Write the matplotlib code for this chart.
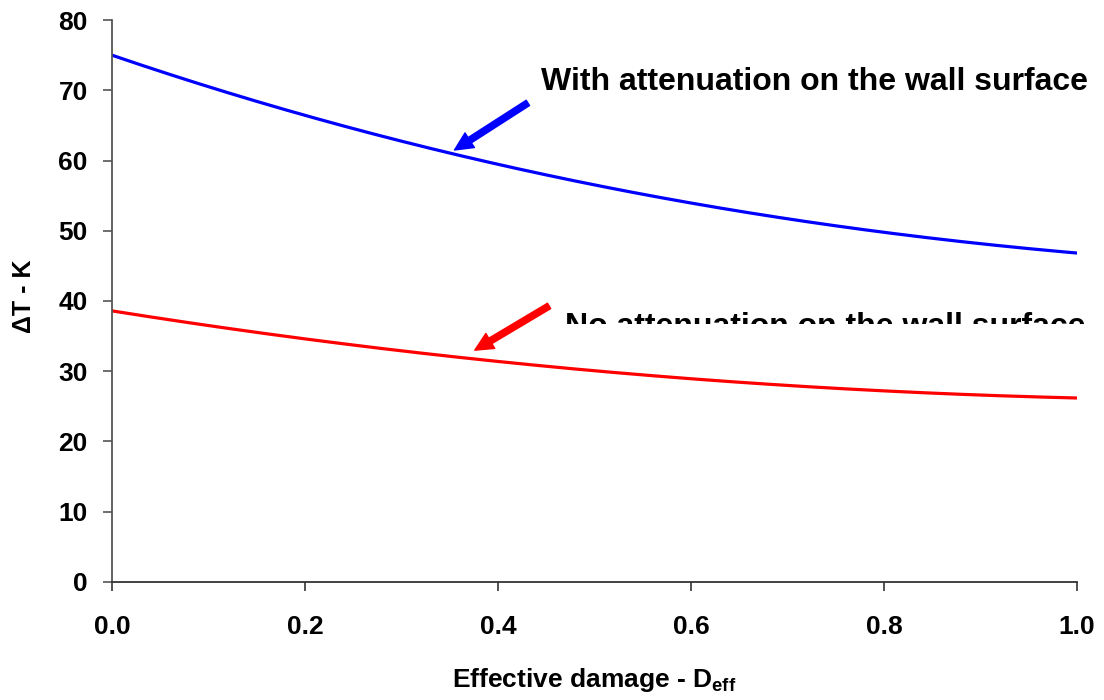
import numpy as np
import matplotlib
matplotlib.use('Agg')
import matplotlib.pyplot as plt
from matplotlib.transforms import Bbox, TransformedBbox

plt.rcParams['font.family'] = ['Liberation Sans', 'DejaVu Sans']
plt.rcParams['font.weight'] = 'bold'
plt.rcParams['axes.labelweight'] = 'bold'
plt.rcParams['mathtext.fontset'] = 'custom'
plt.rcParams['mathtext.rm'] = 'Liberation Sans:bold'
plt.rcParams['mathtext.bf'] = 'Liberation Sans:bold'

# -------------------------------------------------------------------
# DATA
# -------------------------------------------------------------------
d_eff = [0.0, 0.1, 0.2, 0.3, 0.4, 0.5, 0.6, 0.7, 0.8, 0.9, 1.0]
dT_with_att = [75.0, 70.5, 66.4, 62.8, 59.5, 56.5, 53.9, 51.7, 49.8, 48.2, 46.8]
dT_no_att = [38.6, 36.5, 34.6, 32.9, 31.4, 30.1, 28.9, 28.0, 27.2, 26.6, 26.2]

x_ticks = [0.0, 0.2, 0.4, 0.6, 0.8, 1.0]
y_ticks = [0, 10, 20, 30, 40, 50, 60, 70, 80]

# smooth curve through the read points
xs = np.linspace(0, 1, 201)
c_with = np.polyfit(d_eff, dT_with_att, 3)
c_no = np.polyfit(d_eff, dT_no_att, 3)

fig = plt.figure(figsize=(11.04, 7.0), dpi=100)
ax = fig.add_axes([0.1014, 0.1686, 0.8741, 0.8028])

ax.plot(xs, np.polyval(c_with, xs), color='#0000ff', lw=2.3)
ax.plot(xs, np.polyval(c_no, xs), color='#ff0000', lw=2.3)

ax.set_xlim(0, 1)
ax.set_ylim(0, 80)
ax.set_xticks(x_ticks)
ax.set_xticklabels([f'{v:.1f}' for v in x_ticks])
ax.set_yticks(y_ticks)

for s in ['top', 'right']:
    ax.spines[s].set_visible(False)
ax.spines['left'].set_color('#555555')
ax.spines['bottom'].set_color('#333333')
ax.spines['left'].set_linewidth(1.3)
ax.spines['bottom'].set_linewidth(1.3)
ax.tick_params(axis='x', direction='out', length=6.5, width=1.2, color='#333333',
               labelsize=19, pad=17)
ax.tick_params(axis='y', direction='out', length=6.5, width=1.2, color='#555555',
               labelsize=19, pad=11)

ax.set_xlabel(r'Effective damage - D$_{\mathbf{eff}}$', fontsize=19)
ax.xaxis.set_label_coords(0.5, -0.150)
ax.set_ylabel('ΔT - K', fontsize=18)
ax.yaxis.set_label_coords(-0.079, 0.509)

# arrows
arrow_style = 'simple,head_length=1.3,head_width=1.25,tail_width=0.45'
ax.annotate('', xy=(0.355, 61.5), xytext=(0.431, 68.2),
            arrowprops=dict(arrowstyle=arrow_style, color='#0000ff',
                            shrinkA=0, shrinkB=0),
            annotation_clip=False)
ax.annotate('', xy=(0.376, 33.0), xytext=(0.453, 39.3),
            arrowprops=dict(arrowstyle=arrow_style, color='#ff0000',
                            shrinkA=0, shrinkB=0),
            annotation_clip=False)

ax.text(0.445, 70.0, 'With attenuation on the wall surface', fontsize=23,
        ha='left', va='baseline')

# second label is cut off in the reference, clip it the same way
t = ax.text(0.470, 35.2, 'No attenuation on the wall surface', fontsize=23,
            ha='left', va='baseline')
clip = TransformedBbox(Bbox([[0, 0.5371], [1, 1]]), fig.transFigure)
t.set_clip_box(clip)
t.set_clip_on(True)

fig.savefig('out.png', dpi=100)
